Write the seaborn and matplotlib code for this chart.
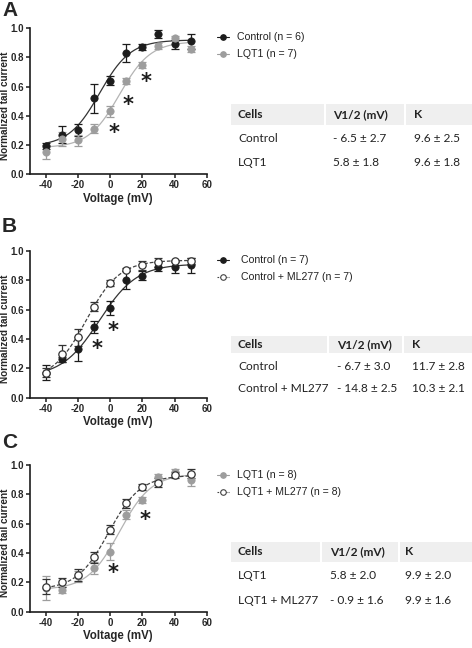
import numpy as np
import pandas as pd
import matplotlib
matplotlib.use("Agg")
import matplotlib.pyplot as plt
import seaborn as sns
from matplotlib.lines import Line2D
from matplotlib.patches import Rectangle
from matplotlib import font_manager

# ---------------- data ----------------
voltage = [-40, -30, -20, -10, 0, 10, 20, 30, 40, 50]

a_control = [0.19, 0.27, 0.30, 0.52, 0.64, 0.83, 0.87, 0.96, 0.89, 0.91]
a_control_err = [0.02, 0.06, 0.04, 0.10, 0.03, 0.06, 0.02, 0.03, 0.03, 0.05]
a_lqt1 = [0.15, 0.24, 0.23, 0.31, 0.43, 0.64, 0.75, 0.88, 0.93, 0.86]
a_lqt1_err = [0.05, 0.05, 0.04, 0.03, 0.04, 0.02, 0.02, 0.02, 0.02, 0.02]

b_control = [0.17, 0.26, 0.33, 0.48, 0.61, 0.80, 0.83, 0.89, 0.89, 0.90]
b_control_err = [0.05, 0.02, 0.08, 0.04, 0.05, 0.06, 0.03, 0.03, 0.04, 0.05]
b_ml277 = [0.17, 0.30, 0.41, 0.62, 0.78, 0.87, 0.90, 0.92, 0.93, 0.93]
b_ml277_err = [0.03, 0.06, 0.06, 0.03, 0.02, 0.01, 0.03, 0.03, 0.01, 0.02]

c_lqt1 = [0.16, 0.15, 0.24, 0.30, 0.41, 0.66, 0.76, 0.92, 0.95, 0.90]
c_lqt1_err = [0.08, 0.02, 0.04, 0.04, 0.06, 0.03, 0.02, 0.02, 0.02, 0.04]
c_ml277 = [0.17, 0.20, 0.25, 0.37, 0.56, 0.74, 0.85, 0.88, 0.93, 0.94]
c_ml277_err = [0.05, 0.03, 0.04, 0.04, 0.03, 0.03, 0.02, 0.03, 0.02, 0.03]

# Boltzmann fit parameters: (V1/2, K, bottom, top)
a_control_fit = (-6.5, 9.6, 0.19, 0.92)
a_lqt1_fit = (5.8, 9.6, 0.18, 0.91)
b_control_fit = (-6.7, 11.7, 0.14, 0.91)
b_ml277_fit = (-14.8, 10.3, 0.12, 0.935)
c_lqt1_fit = (5.8, 9.9, 0.15, 0.94)
c_ml277_fit = (-0.9, 9.9, 0.15, 0.93)

# significance stars (voltage, y)
a_stars = [(2.4, 0.33), (11.3, 0.52), (22.1, 0.68)]
b_stars = [(-8.3, 0.38), (2.0, 0.50)]
c_stars = [(2.0, 0.31), (21.7, 0.675)]

a_legend = ["Control (n = 6)", "LQT1 (n = 7)"]
b_legend = ["Control (n = 7)", "Control + ML277 (n = 7)"]
c_legend = ["LQT1 (n = 8)", "LQT1 + ML277 (n = 8)"]

table_header = ["Cells", "V1/2 (mV)", "K"]
a_table = [["Control", "- 6.5 \u00b1 2.7", "9.6 \u00b1 2.5"],
           ["LQT1", "5.8 \u00b1 1.8", "9.6 \u00b1 1.8"]]
b_table = [["Control", "- 6.7 \u00b1 3.0", "11.7 \u00b1 2.8"],
           ["Control + ML277", "- 14.8 \u00b1 2.5", "10.3 \u00b1 2.1"]]
c_table = [["LQT1", "5.8 \u00b1 2.0", "9.9 \u00b1 2.0"],
           ["LQT1 + ML277", "- 0.9 \u00b1 1.6", "9.9 \u00b1 1.6"]]

xticks = [-40, -20, 0, 20, 40, 60]
yticks = [0.0, 0.2, 0.4, 0.6, 0.8, 1.0]

# ---------------- style ----------------
sns.set_style("ticks")
names = {f.name for f in font_manager.fontManager.ttflist}
narrow = "Liberation Sans Narrow" if "Liberation Sans Narrow" in names else "Liberation Sans"
table_font = "Lato" if "Lato" in names else "DejaVu Sans"
plt.rcParams["font.family"] = [narrow, "DejaVu Sans"]
plt.rcParams["axes.unicode_minus"] = False

W, H = 472, 648
fig = plt.figure(figsize=(W / 100, H / 100), dpi=100)


def fx(x):
    return x / W


def fy(y):
    return 1 - y / H


BLACK = "#1c1c1c"
GRAY = "#9d9d9d"
GRAYLINE = "#b4b4b4"


def boltz(v, p):
    vh, k, b, t = p
    return b + (t - b) / (1 + np.exp((vh - v) / k))


def add_series(ax, y, err, fit, color, linecolor, open_marker, dashed):
    vv = np.linspace(-40, 50, 200)
    fdf = pd.DataFrame({"v": vv, "y": boltz(vv, fit)})
    sns.lineplot(data=fdf, x="v", y="y", ax=ax, color=linecolor, lw=0.9,
                 linestyle=(0, (3, 1.6)) if dashed else "-", zorder=2)
    ax.errorbar(voltage, y, yerr=err, fmt="none", ecolor=color, elinewidth=0.9,
                capsize=2.6, capthick=0.9, zorder=3)
    df = pd.DataFrame({"v": voltage, "y": y})
    if open_marker:
        sns.scatterplot(data=df, x="v", y="y", ax=ax, s=28, facecolor="white",
                        edgecolor=color, linewidth=0.9, zorder=4)
    else:
        sns.scatterplot(data=df, x="v", y="y", ax=ax, s=28, color=color,
                        edgecolor=color, linewidth=0.5, zorder=4)


def setup_axes(top_px, bottom_px):
    left, right = 29.6, 206.7
    ax = fig.add_axes([fx(left), fy(bottom_px), (right - left) / W, (bottom_px - top_px) / H])
    ax.set_xlim(-50, 60)
    ax.set_ylim(0, 1.0)
    ax.set_xticks(xticks)
    ax.set_yticks(yticks)
    ax.set_xticklabels([str(t) for t in xticks])
    ax.set_yticklabels([f"{t:.1f}" for t in yticks])
    ax.tick_params(labelsize=7, width=1.1, length=3, direction="out", pad=1.2, color=BLACK)
    for lab in ax.get_xticklabels() + ax.get_yticklabels():
        lab.set_fontweight("bold")
    for s in ["left", "bottom"]:
        ax.spines[s].set_linewidth(1.2)
        ax.spines[s].set_color(BLACK)
    sns.despine(ax=ax)
    ax.set_xlabel("Voltage (mV)", fontsize=8.3, fontweight="bold", labelpad=2)
    ax.set_ylabel("Normalized tail current", fontsize=7.2, fontweight="bold", labelpad=1)
    ax.yaxis.set_label_coords(-0.11, 0.47)
    return ax


def add_legend(entries, y1, y2, textx):
    for (label, color, open_marker, dashed), y in zip(entries, [y1, y2]):
        fig.add_artist(Line2D([fx(217), fx(229)], [fy(y), fy(y)], transform=fig.transFigure,
                              color=color, lw=0.8, linestyle=(0, (1.5, 1)) if dashed else "-"))
        fig.add_artist(Line2D([fx(223)], [fy(y)], transform=fig.transFigure, marker="o",
                              markersize=4, markerfacecolor="white" if open_marker else color,
                              markeredgecolor=color, markeredgewidth=0.8, lw=0))
        fig.text(fx(textx), fy(y), label, fontsize=7.6, va="center", ha="left", color="#222222")


def add_table(rows, band_top, band_bot, col_x, seps, row_y):
    bounds = [230.7, seps[0], seps[1], 472]
    for i in range(3):
        x0 = bounds[i] + (1 if i > 0 else 0)
        x1 = bounds[i + 1] - (1 if i < 2 else 0)
        fig.add_artist(Rectangle((fx(x0), fy(band_bot)), (x1 - x0) / W, (band_bot - band_top) / H,
                                 transform=fig.transFigure, facecolor="#efefef", edgecolor="none"))
    yc = (band_top + band_bot) / 2
    for txt, x in zip(table_header, col_x):
        fig.text(fx(x), fy(yc), txt, fontsize=8.6, fontweight="bold", va="center", ha="left",
                 family=table_font, color="#222222")
    for row, y in zip(rows, row_y):
        for txt, x in zip(row, col_x):
            fig.text(fx(x), fy(y), txt, fontsize=8.6, va="center", ha="left",
                     family=table_font, color="#222222")


def add_stars(ax, stars):
    for v, y in stars:
        ax.annotate("*", xy=(v, y), xytext=(0, -9.5), textcoords="offset points",
                    fontsize=15, fontweight="bold", ha="center", va="baseline",
                    color=BLACK, family="DejaVu Sans")


# ---------------- Panel A ----------------
axA = setup_axes(28.3, 174)
add_series(axA, a_control, a_control_err, a_control_fit, BLACK, "#333333", False, False)
add_series(axA, a_lqt1, a_lqt1_err, a_lqt1_fit, GRAY, GRAYLINE, False, False)
add_stars(axA, a_stars)
add_legend([(a_legend[0], BLACK, False, False), (a_legend[1], GRAY, False, False)], 37.3, 54, 237)
add_table(a_table, 104, 125, [238, 333, 414], [325, 405], [139, 162])

# ---------------- Panel B ----------------
axB = setup_axes(250.7, 397.7)
add_series(axB, b_control, b_control_err, b_control_fit, BLACK, "#333333", False, False)
add_series(axB, b_ml277, b_ml277_err, b_ml277_fit, "#333333", "#444444", True, True)
add_stars(axB, b_stars)
add_legend([(b_legend[0], BLACK, False, False), (b_legend[1], "#444444", True, True)], 260, 276.7, 240.7)
add_table(b_table, 335.7, 353.3, [238, 337, 412], [328, 403], [367, 389])

# ---------------- Panel C ----------------
axC = setup_axes(465, 611.7)
add_series(axC, c_lqt1, c_lqt1_err, c_lqt1_fit, GRAY, GRAYLINE, False, False)
add_series(axC, c_ml277, c_ml277_err, c_ml277_fit, "#333333", "#444444", True, True)
add_stars(axC, c_stars)
add_legend([(c_legend[0], GRAY, False, False), (c_legend[1], "#444444", True, True)], 475, 491.7, 237)
add_table(c_table, 541.7, 562, [238, 330, 405], [320.7, 399], [575.7, 600])

# panel letters
for letter, y in zip(["A", "B", "C"], [10, 226, 442]):
    fig.text(fx(2), fy(y), letter, fontsize=15, fontweight="bold", va="center", ha="left",
             family="Liberation Sans")

fig.savefig("out.png", dpi=100)
